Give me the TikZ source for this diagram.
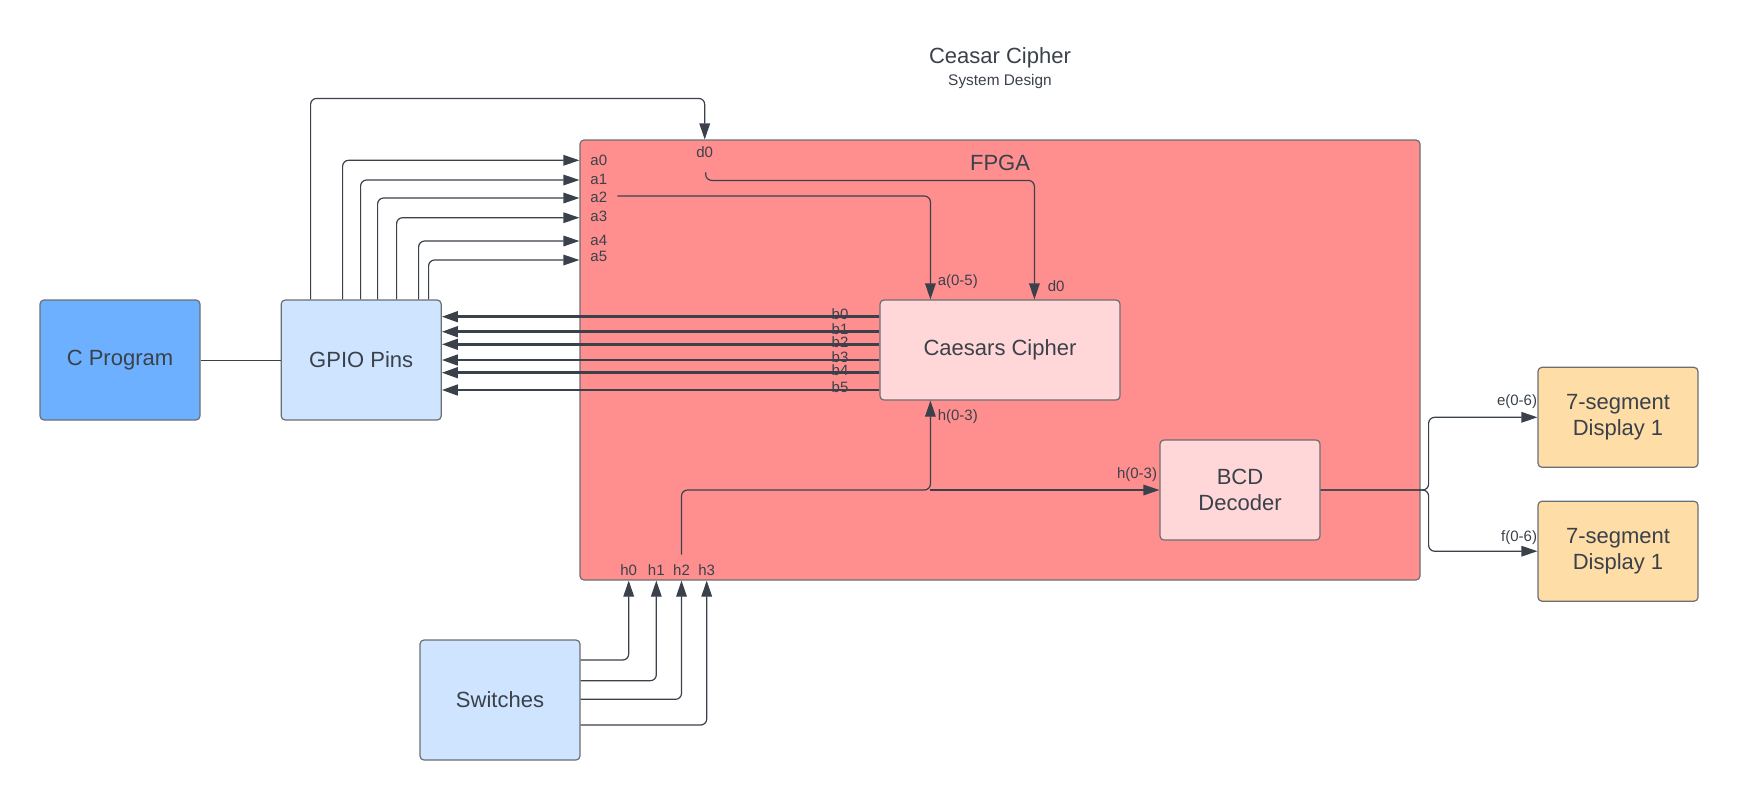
\documentclass[tikz,border=0pt]{standalone}
\usepackage{fontspec}
\setmainfont{Liberation Sans}
\usepackage{xcolor}
\usepackage{tikz}
\usetikzlibrary{arrows.meta, positioning, calc}

\definecolor{ink}{HTML}{3A414A}
\definecolor{edge}{HTML}{6B6E73}
\definecolor{fpgared}{HTML}{FF8F8F}
\definecolor{cipherpink}{HTML}{FFD7D8}
\definecolor{progblue}{HTML}{6CB0FF}
\definecolor{pinblue}{HTML}{CFE4FF}
\definecolor{segorange}{HTML}{FFDDA6}

\begin{document}
\begin{tikzpicture}[
    x=0.5pt, y=-0.5pt,
    block/.style={draw=edge, line width=0.6pt, rounded corners=2pt, inner sep=0pt, align=center, text=ink, font=\fontsize{11}{13.3}\selectfont, minimum width=80pt, minimum height=60pt},
    port/.style={text=ink, inner sep=0pt, font=\fontsize{7.5}{9}\selectfont},
    wire/.style={draw=ink, line width=0.6pt, rounded corners=3pt},
    arr/.style={wire, -{Triangle[length=8pt, width=5.3pt]}},
    bus/.style={arr, line width=1.3pt},
]
\useasboundingbox (0,0) rectangle (1738,800);

\node[text=ink, font=\fontsize{11}{13}\selectfont] (title) at (1000,57.7) {Ceasar Cipher};
\node[text=ink, font=\fontsize{7.7}{9}\selectfont] (subtitle) at (1000,81.7) {System Design};

\node[block, fill=fpgared, minimum width=420pt, minimum height=220pt] (fpga) at (1000,360) {};
\node[text=ink, font=\fontsize{11}{13}\selectfont] (fpga-title) at (1000,163) {FPGA};

\node[block, fill=progblue] (cprog) at (120,360) {C Program};
\node[block, fill=pinblue, right=40pt of cprog] (gpio) {GPIO Pins};
\node[block, fill=cipherpink, minimum width=120pt, minimum height=50pt] (caesar) at (1000,350) {Caesars Cipher};
\node[block, fill=cipherpink, minimum height=50pt] (bcd) at (1240,490) {BCD\\Decoder};
\node[block, fill=segorange, minimum height=50pt] (seg1) at (1618,417.3) {7-segment\\Display 1};
\node[block, fill=segorange, minimum height=50pt, below=16.35pt of seg1] (seg2) {7-segment\\Display 1};
\node[block, fill=pinblue] (switches) at (500,700) {Switches};

\draw[wire, line width=0.45pt] (cprog) -- (gpio);

% GPIO -> FPGA
\node[port] (d0top) at (704.7,152) {d0};
\draw[arr] ($(gpio.north west)+(30,0)$) -- ++(0,-201) -| (d0top |- fpga.north);
\foreach \i/\dx/\y/\ly in {0/62/160.3/160, 1/80/180/179.5, 2/97/198/197, 3/116/217.7/216.7, 4/138/241/240.5, 5/148/260/256}{
  \node[port, anchor=west] (a\i) at (590,\ly) {a\i};
  \draw[arr] ($(gpio.north west)+(\dx,0)$) |- (fpga.west |- 0,\y);
}

% into the cipher
\coordinate (abus) at ($(caesar.north west)+(51,0)$);
\coordinate (dbus) at ($(caesar.north west)+(155,0)$);
\coordinate (hbus) at ($(caesar.south west)+(51,0)$);
\draw[arr] (a2.east) ++(10,-1) -| (abus);
\draw[arr] (d0top.south) ++(1,14.5) -- ++(0,8) -| (dbus);
\node[port, anchor=west] (alabel) at ($(abus)+(7,-18)$) {a(0-5)};
\node[port, anchor=west] (dlabel) at ($(dbus)+(13,-13)$) {d0};

% cipher -> GPIO
\foreach \i/\y in {0/316.7, 1/331.7, 2/344.3, 3/360, 4/372.7, 5/390}{
  \draw[bus] (caesar.west |- 0,\y) -- node[port, pos=0.09, anchor=base, yshift=-1.35pt] (b\i) {b\i} (gpio.east |- 0,\y);
}

% switches -> FPGA
\foreach \i/\x/\y in {0/628.7/660, 1/656.3/680.7, 2/681.5/699.3, 3/706.7/725}{
  \node[port] (h\i) at (\x,570) {h\i};
  \draw[arr] (switches.east |- 0,\y) -| (h\i |- fpga.south);
}
\draw[arr] (h2.north) ++(0,-9.5) |- (hbus |- bcd.west) -- (hbus);
\draw[arr] (hbus |- bcd.west) -- (bcd.west);
\node[port, anchor=west] (hcc) at ($(hbus)+(7,16)$) {h(0-3)};
\node[port, anchor=east] (hbcd) at ($(bcd.west)+(-2,-15)$) {h(0-3)};

% decoder -> displays
\draw[arr] (bcd.east) -- ++(108,0) |- (seg1.west);
\draw[arr] (bcd.east) -- ++(108,0) |- (seg2.west);
\node[port, anchor=east] (elabel) at ($(seg1.west)+(0,-15.6)$) {e(0-6)};
\node[port, anchor=east] (flabel) at ($(seg2.west)+(0,-14)$) {f(0-6)};
\end{tikzpicture}
\end{document}
